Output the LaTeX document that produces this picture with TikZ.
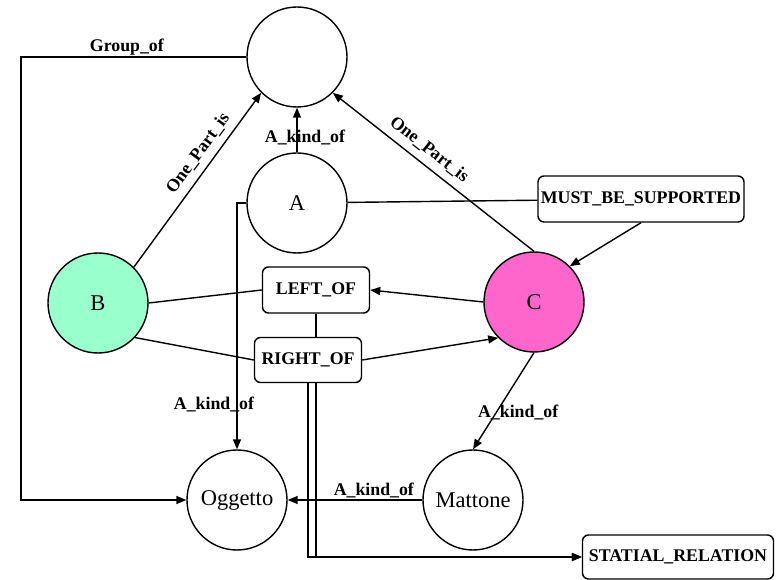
\documentclass[tikz,border=0pt]{standalone}
\usepackage{fontspec}
\setmainfont{Liberation Serif}
\usetikzlibrary{arrows.meta}
\pgfdeclarelayer{edges}
\pgfsetlayers{edges,main}
\definecolor{conceptmint}{HTML}{99FFCC}
\definecolor{conceptpink}{HTML}{FF66CC}
\tikzset{
  concept/.style={circle, draw, line width=1.4pt, fill=white, minimum size=100pt,
    inner sep=0pt, font=\fontsize{22.5}{26}\selectfont},
  relation/.style={rectangle, rounded corners=6pt, draw, line width=1.4pt, fill=white,
    inner sep=0pt, minimum height=46pt, font=\bfseries\fontsize{17.8}{20}\selectfont},
  link/.style={line width=1.4pt},
  arr/.style={link, -{Triangle[length=10pt,width=8pt]}},
  rarr/.style={link, {Triangle[length=10pt,width=8pt]}-},
  lbl/.style={font=\bfseries\fontsize{17.8}{20}\selectfont, inner sep=0pt},
}
\begin{document}
\begin{tikzpicture}[x=1pt,y=-1pt]
\useasboundingbox (0,0) rectangle (780,580);

% concepts
\node[concept] (top) at (297,57) {};
\node[concept] (A) at (297,203) {A};
\node[concept, fill=conceptmint] (B) at (98,303) {B};
\node[concept, fill=conceptpink] (C) at (534,302) {C};
\node[concept] (ogg) at (237,500) {Oggetto};
\node[concept] (mat) at (473,500) {Mattone};

% relations
\node[relation, minimum width=206pt] (must) at (641,199) {MUST\_BE\_SUPPORTED};
\node[relation, minimum width=107pt] (left) at (316,290) {LEFT\_OF};
\node[relation, minimum width=107pt, minimum height=45pt] (right) at (308,360) {RIGHT\_OF};
\node[relation, minimum width=191pt, minimum height=44pt] (stat) at (678,557) {STATIAL\_RELATION};

\coordinate (gcorner) at (21,57);

\begin{pgfonlayer}{edges}
  \draw[arr] (top.west) -- node[lbl, pos=0.53, yshift=10pt]{Group\_of} (gcorner) |- (ogg.west);
  \draw[rarr] (top.south) -- (A.north) node[lbl, pos=0.67, xshift=8pt]{A\_kind\_of};
  \draw[arr] (A.west) -| node[lbl, pos=0.909, xshift=-23pt]{A\_kind\_of} (ogg.north);
  \draw[link] (A) -- (must);
  \draw[arr] (must.south) -- (C.45);
  \draw[arr] (B.45) -- (top.-135) node[lbl, sloped, pos=0.6, above=7pt]{One\_Part\_is};
  \draw[rarr] (top.-45) -- (C.north) node[lbl, sloped, pos=0.433, above=7pt]{One\_Part\_is};
  \draw[arr] (C.west) -- (left.east);
  \draw[arr] (right.east) -- (C.-135);
  \draw[link] (B.east) -- (left.west);
  \draw[link] (B.-43) -- (right.west);
  \draw[arr] (left.south) |- (stat.west);
  \draw[arr] (right.south) |- (stat.west);
  \draw[arr] (C.south) -- (mat.north) node[lbl, pos=0.62, xshift=22pt]{A\_kind\_of};
  \draw[arr] (mat.west) -- (ogg.east) node[lbl, pos=0.36, yshift=10pt]{A\_kind\_of};
\end{pgfonlayer}
\end{tikzpicture}
\end{document}
